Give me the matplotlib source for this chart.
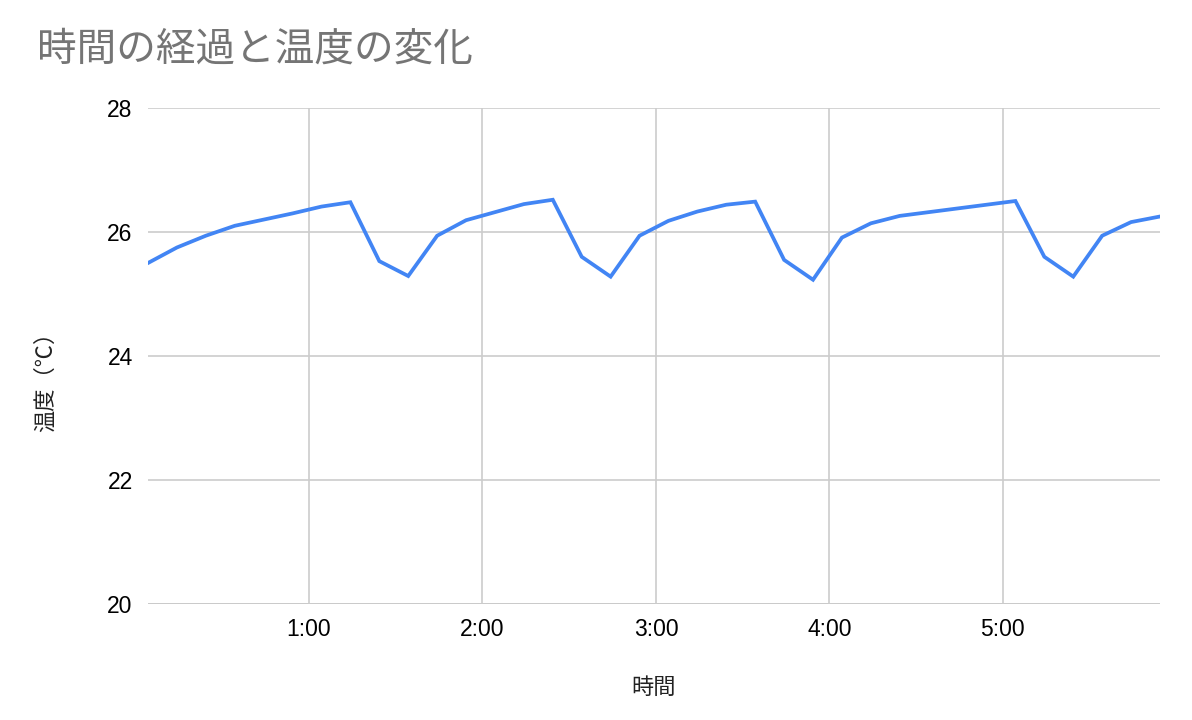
import matplotlib
matplotlib.use("Agg")
import matplotlib.pyplot as plt

times = ["0:04:20", "0:14:20", "0:24:20", "0:34:20", "0:44:20", "0:54:20",
         "1:04:20", "1:14:20", "1:24:20", "1:34:20", "1:44:20", "1:54:20",
         "2:04:20", "2:14:20", "2:24:20", "2:34:20", "2:44:20", "2:54:20",
         "3:04:20", "3:14:20", "3:24:20", "3:34:20", "3:44:20", "3:54:20",
         "4:04:20", "4:14:20", "4:24:20", "4:34:20", "4:44:20", "4:54:20",
         "5:04:20", "5:14:20", "5:24:20", "5:34:20", "5:44:20", "5:54:20"]
temps = [25.50, 25.75, 25.94, 26.10, 26.20, 26.30, 26.41, 26.48, 25.53, 25.29,
         25.94, 26.19, 26.32, 26.45, 26.52, 25.60, 25.28, 25.94, 26.18, 26.33,
         26.44, 26.49, 25.55, 25.23, 25.91, 26.14, 26.26, 26.32, 26.38, 26.44,
         26.50, 25.60, 25.28, 25.94, 26.16, 26.25]
xtick_labels = ["1:00", "2:00", "3:00", "4:00", "5:00"]
yticks = [20, 22, 24, 26, 28]
title = "時間の経過と温度の変化"
xlabel = "時間"
ylabel = "温度（℃）"

def to_min(s):
    h, m, sec = s.split(":")
    return int(h) * 60 + int(m) + int(sec) / 60.0

xs = [to_min(t) for t in times]
tick_pos = [to_min(t + ":00") for t in xtick_labels]

cjk = ["Noto Sans CJK JP", "DejaVu Sans"]
num = ["Liberation Sans", "DejaVu Sans"]

fig = plt.figure(figsize=(11.92, 7.2), dpi=100)
ax = fig.add_axes([148/1192, 1-604/720, (1160-148)/1192, (604-108)/720])
ax.plot(xs, temps, color="#4285F4", lw=2.7, solid_joinstyle="miter", zorder=3)
ax.set_xlim(xs[0], xs[-1])
ax.set_ylim(20, 28)
ax.set_yticks(yticks)
ax.set_yticklabels([str(v) for v in yticks], family=num, fontsize=16.5, color="#000000")
ax.set_xticks(tick_pos)
ax.set_xticklabels(xtick_labels, family=num, fontsize=16.5, color="#000000")
ax.tick_params(length=0)
ax.tick_params(axis="x", pad=10)
ax.tick_params(axis="y", pad=11)
ax.grid(True, color="#cccccc", lw=1.2, zorder=0)
for s in ax.spines.values():
    s.set_visible(False)
ax.axhline(20, color="#bbbbbb", lw=1.2, zorder=1)

fig.text(37/1192, 1-50/720, title, family=cjk, fontsize=28.5, color="#757575",
         ha="left", va="center")
fig.text(654/1192, 1-687/720, xlabel, family=cjk, fontsize=16, color="#222222",
         ha="center", va="center")
fig.text(45/1192, 1-376/720, ylabel, family=cjk, fontsize=16, color="#222222",
         ha="center", va="center", rotation=90)

fig.savefig("out.png", dpi=100, facecolor="white")
